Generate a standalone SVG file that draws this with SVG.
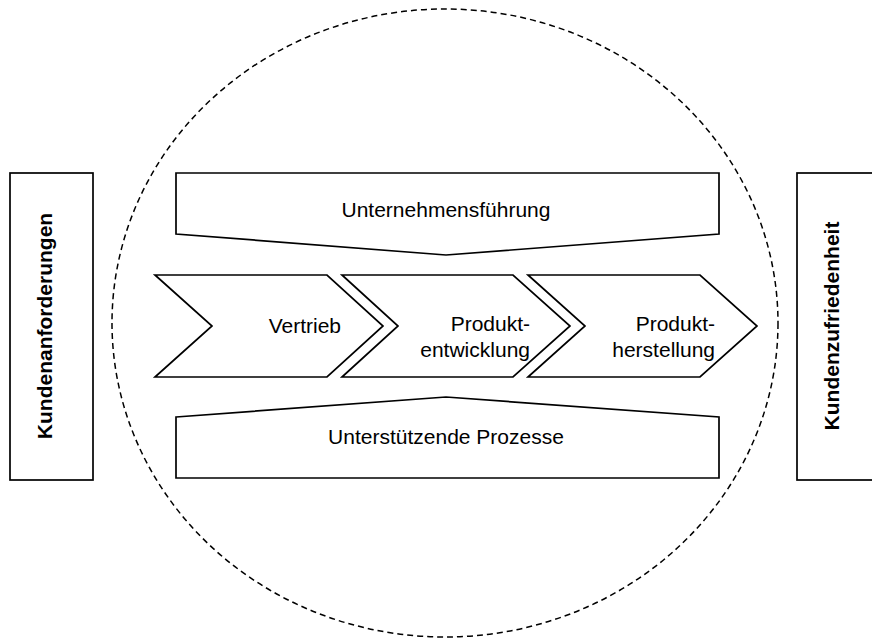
<svg xmlns="http://www.w3.org/2000/svg" width="872" height="642" viewBox="0 0 872 642">
<style>
.s{fill:#fff;stroke:#000;stroke-width:1.7;stroke-linejoin:miter}
.t{font-family:"Liberation Sans",Arial,sans-serif;font-size:21px;fill:#000}
.b{font-weight:bold;text-anchor:middle}
</style>
<rect width="872" height="642" fill="#fff"/>
<g id="scope">
<ellipse cx="445" cy="323" rx="333" ry="314" fill="none" stroke="#000" stroke-width="1.5" stroke-dasharray="6,4"/>
</g>
<g id="kundenanforderungen">
<rect class="s" x="10" y="173" width="83" height="307"/>
<text class="t b" transform="translate(52,326) rotate(-90)">Kundenanforderungen</text>
</g>
<g id="kundenzufriedenheit">
<rect class="s" x="797" y="173" width="83" height="307"/>
<text class="t b" transform="translate(839,326) rotate(-90)">Kundenzufriedenheit</text>
</g>
<g id="unternehmensfuehrung">
<polygon class="s" points="176,173 719,173 719,234 446,255 176,234"/>
<text class="t" x="446" y="217" text-anchor="middle">Unternehmensführung</text>
</g>
<g id="unterstuetzende">
<polygon class="s" points="176,417 446,397 719,417 719,478 176,478"/>
<text class="t" x="446" y="444" text-anchor="middle">Unterstützende Prozesse</text>
</g>
<g id="vertrieb">
<polygon class="s" points="155,275 327,275 383,326 327,377 155,377 212,326"/>
<text class="t" x="341" y="333" text-anchor="end">Vertrieb</text>
</g>
<g id="produktentwicklung">
<polygon class="s" points="342,275 513,275 570,326 513,377 342,377 398,326"/>
<text class="t" text-anchor="end"><tspan x="530" y="331">Produkt-</tspan><tspan x="530" y="357">entwicklung</tspan></text>
</g>
<g id="produktherstellung">
<polygon class="s" points="528,275 700,275 757,326 700,377 528,377 585,326"/>
<text class="t" text-anchor="end"><tspan x="715" y="331">Produkt-</tspan><tspan x="715" y="357">herstellung</tspan></text>
</g>
<g id="connectors"></g>
</svg>
